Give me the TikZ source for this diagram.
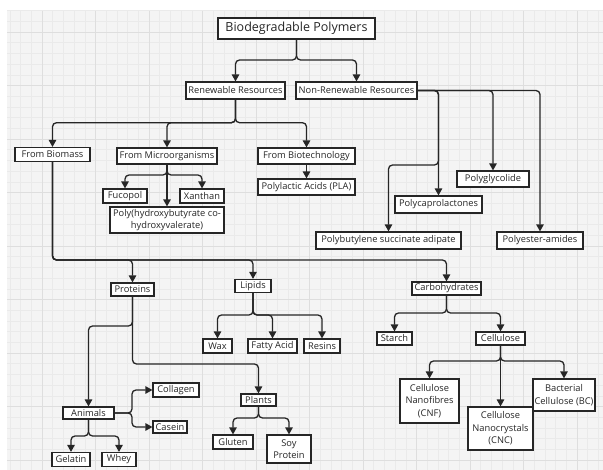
\documentclass[tikz,border=0pt]{standalone}
\usepackage{fontspec}
\setmainfont{Open Sans}
\usetikzlibrary{arrows.meta}
\definecolor{bgc}{HTML}{F4F4F4}
\definecolor{minc}{HTML}{EAEAEA}
\definecolor{majc}{HTML}{DEDEDE}
\definecolor{ink}{HTML}{262626}
\tikzset{
  box/.style={draw=ink, fill=white, line width=1.2pt, inner sep=1pt, align=center,
    font=\fontsize{9.3}{12.5}\selectfont, text=ink},
  arr/.style={draw=ink, line width=1.3pt, rounded corners=4pt,
    -{Triangle[length=7pt,width=7.5pt]}},
  minorline/.style={draw=minc, line width=0.5pt},
  majorline/.style={draw=majc, line width=0.7pt}
}
\begin{document}
\begin{tikzpicture}[x=1pt,y=-1pt]
\useasboundingbox (0,0) rectangle (603,470);
% background grid
\fill[white] (0,0) rectangle (603,470);
\fill[bgc] (7,11) rectangle (603,470);
\begin{scope}
\clip (7,11) rectangle (603,470);
\foreach \i in {0,...,56} {\draw[minorline] ({9.9+\i*10.7},11) -- ({9.9+\i*10.7},470);}
\foreach \i in {0,...,44} {\draw[minorline] (7,{10.6+\i*10.7}) -- (603,{10.6+\i*10.7});}
\foreach \i in {0,...,11} {\draw[majorline] ({42+\i*53.5},11) -- ({42+\i*53.5},470);}
\foreach \i in {0,...,9} {\draw[majorline] (7,{32+\i*53.5}) -- (603,{32+\i*53.5});}
\end{scope}

% nodes
\node[box, minimum width=157pt, minimum height=21pt, font=\fontsize{12.5}{14}\selectfont] (bp) at (296.5,28.5) {Biodegradable Polymers};
\node[box, minimum width=99pt, minimum height=17pt] (rr) at (235.5,90.5) {Renewable Resources};
\node[box, minimum width=121pt, minimum height=17pt] (nr) at (356.5,90.5) {Non-Renewable Resources};

\node[box, minimum width=75pt, minimum height=14pt] (fb) at (52.5,154.5) {From Biomass};
\node[box, minimum width=100pt, minimum height=16pt] (fm) at (167,156) {From Microorganisms};
\node[box, minimum width=97pt, minimum height=16pt] (fbt) at (306.5,156) {From Biotechnology};

\node[box, minimum width=44pt, minimum height=14pt] (fuc) at (125,196) {Fucopol};
\node[box, minimum width=44pt, minimum height=14pt] (xan) at (202,196) {Xanthan};
\node[box, minimum width=114pt, minimum height=26pt, font=\fontsize{9.3}{11.5}\selectfont] (phb) at (167,220) {Poly(hydroxybutyrate co-\\hydroxyvalerate)};
\node[box, minimum width=97pt, minimum height=16pt] (pla) at (306.5,187) {Polylactic Acids (PLA)};

\node[box, minimum width=72pt, minimum height=16pt] (pg) at (493,179) {Polyglycolide};
\node[box, minimum width=87pt, minimum height=17pt] (pcl) at (438.5,204.5) {Polycaprolactones};
\node[box, minimum width=145pt, minimum height=17pt] (pbsa) at (388.5,240.5) {Polybutylene succinate adipate};
\node[box, minimum width=86pt, minimum height=17pt] (pea) at (540,240.5) {Polyester-amides};

\node[box, minimum width=43pt, minimum height=13pt] (prot) at (132.5,289.5) {Proteins};
\node[box, minimum width=36pt, minimum height=13pt] (lip) at (253,286) {Lipids};
\node[box, minimum width=69pt, minimum height=13pt] (carb) at (446.5,288.5) {Carbohydrates};

\node[box, minimum width=29pt, minimum height=14pt] (wax) at (217.5,346) {Wax};
\node[box, minimum width=49pt, minimum height=14pt] (fa) at (272.5,346) {Fatty Acid};
\node[box, minimum width=36pt, minimum height=14pt] (res) at (322,346) {Resins};

\node[box, minimum width=35pt, minimum height=13pt] (starch) at (394.5,338.5) {Starch};
\node[box, minimum width=49pt, minimum height=13pt] (cell) at (500.5,338.5) {Cellulose};

\node[box, minimum width=59pt, minimum height=44pt] (cnf) at (429.5,401) {Cellulose\\Nanofibres\\(CNF)};
\node[box, minimum width=65pt, minimum height=43pt] (cnc) at (500.5,428.5) {Cellulose\\Nanocrystals\\(CNC)};
\node[box, minimum width=62pt, minimum height=32pt] (bc) at (564,395) {Bacterial\\Cellulose (BC)};

\node[box, minimum width=51pt, minimum height=12pt] (anim) at (88.5,413) {Animals};
\node[box, minimum width=46pt, minimum height=14pt] (coll) at (176,390) {Collagen};
\node[box, minimum width=34pt, minimum height=12pt] (cas) at (170,427) {Casein};
\node[box, minimum width=38pt, minimum height=14pt] (gel) at (71,459.5) {Gelatin};
\node[box, minimum width=34pt, minimum height=14pt] (whey) at (119,459.5) {Whey};

\node[box, minimum width=35pt, minimum height=12pt] (plants) at (258.5,400) {Plants};
\node[box, minimum width=40pt, minimum height=14pt] (glut) at (233,442) {Gluten};
\node[box, minimum width=44pt, minimum height=28pt] (soy) at (289,449) {Soy\\Protein};

% connectors
\draw[arr] (bp.south) -- (bp.south |- 0,60) -| (rr.north);
\draw[arr] (bp.south) -- (bp.south |- 0,60) -| (nr.north);

\draw[arr] (rr.south) -- (rr.south |- 0,122.7) -| (fb.north);
\draw[arr] (rr.south) -- (rr.south |- 0,122.7) -| (fm.north);
\draw[arr] (rr.south) -- (rr.south |- 0,122.7) -| (fbt.north);

\draw[arr] (fm.south) -- (fm.south |- 0,175) -| (fuc.north);
\draw[arr] (fm.south) -- (phb.north);
\draw[arr] (fm.south) -- (fm.south |- 0,175) -| (xan.north);
\draw[arr] (fbt.south) -- (pla.north);

\draw[arr] (nr.east) -| (pcl.north);
\draw[arr] (nr.east) -| (pcl.north |- 0,165) -| (pbsa.north);
\draw[arr] (nr.east) -| (pg.north);
\draw[arr] (nr.east) -| (pea.north);

\draw[arr] (fb.south) -- (fb.south |- 0,260) -| (prot.north);
\draw[arr] (fb.south) -- (fb.south |- 0,260) -| (lip.north);
\draw[arr] (fb.south) -- (fb.south |- 0,260) -| (carb.north);

\draw[arr] (lip.south) -- (lip.south |- 0,315) -| (wax.north);
\draw[arr] (lip.south) -- (lip.south |- 0,315) -| (fa.north);
\draw[arr] (lip.south) -- (lip.south |- 0,315) -| (res.north);

\draw[arr] (carb.south) -- (carb.south |- 0,313) -| (starch.north);
\draw[arr] (carb.south) -- (carb.south |- 0,313) -| (cell.north);

\draw[arr] (cell.south) -- (cell.south |- 0,361) -| (cnf.north);
\draw[arr] (cell.south) -- (cnc.north);
\draw[arr] (cell.south) -- (cell.south |- 0,361) -| (bc.north);

\draw[arr] (prot.south) -- (prot.south |- 0,326) -| (anim.north);
\draw[arr] (prot.south) -- (prot.south |- 0,364) -| (plants.north);

\draw[arr] (anim.east) -- (anim.east -| 132,0) |- (coll.west);
\draw[arr] (anim.east) -- (anim.east -| 132,0) |- (cas.west);
\draw[arr] (anim.south) -- (anim.south |- 0,436) -| (gel.north);
\draw[arr] (anim.south) -- (anim.south |- 0,436) -| (whey.north);

\draw[arr] (plants.south) -- (plants.south |- 0,418) -| (glut.north);
\draw[arr] (plants.south) -- (plants.south |- 0,418) -| (soy.north);
\end{tikzpicture}
\end{document}
